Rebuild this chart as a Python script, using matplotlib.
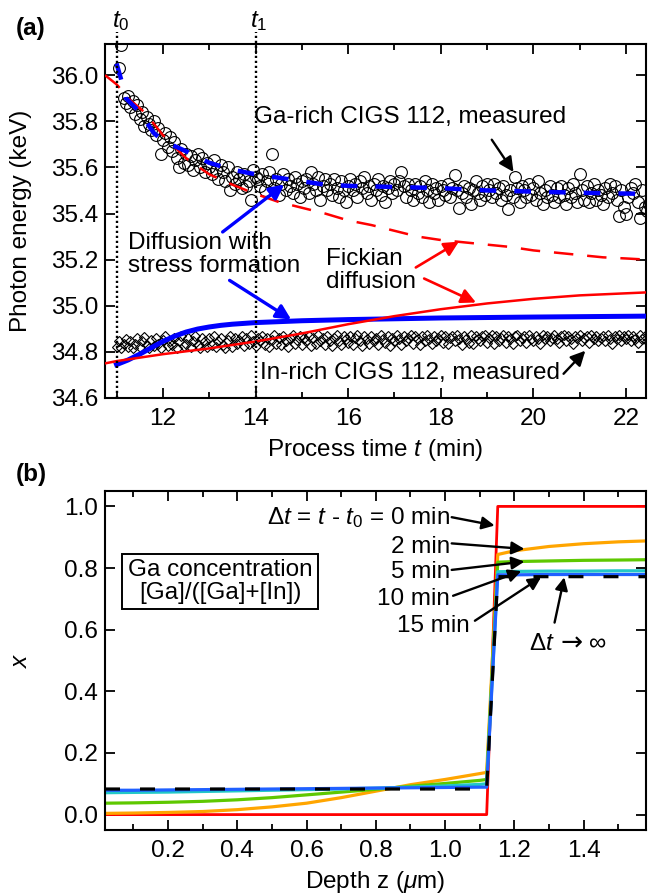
import numpy as np
import matplotlib
matplotlib.use('Agg')
import matplotlib.pyplot as plt
import matplotlib.transforms as mtransforms

# Fonts: Arial-like look
plt.rcParams['font.family'] = ['Liberation Sans', 'DejaVu Sans']
plt.rcParams['mathtext.fontset'] = 'custom'
plt.rcParams['mathtext.rm'] = 'Liberation Sans'
plt.rcParams['mathtext.it'] = 'Liberation Sans:italic'
plt.rcParams['mathtext.bf'] = 'Liberation Sans:bold'
plt.rcParams['font.size'] = 17.5
plt.rcParams['lines.scale_dashes'] = False

# ---------------- Panel (a) data ----------------
t0 = 11.0
t1 = 14.0

# Ga-rich CIGS 112, measured (circles), one value every 0.05 min from 11.05 min
ga_energy = [
    36.03, 36.13, 35.90, 35.88, 35.91, 35.86, 35.89, 35.83, 35.87, 35.81,
    35.84, 35.78, 35.82, 35.79, 35.76, 35.80, 35.74, 35.77, 35.66, 35.72,
    35.75, 35.69, 35.73, 35.67, 35.71, 35.64, 35.60, 35.68, 35.62, 35.66,
    35.61, 35.65, 35.59, 35.63, 35.66, 35.60, 35.64, 35.58, 35.62, 35.60,
    35.57, 35.63, 35.59, 35.55, 35.61, 35.58, 35.54, 35.60, 35.50, 35.56,
    35.53, 35.58, 35.55, 35.51, 35.57, 35.52, 35.54, 35.46, 35.59, 35.56,
    35.55, 35.52, 35.57, 35.50, 35.54, 35.58, 35.66, 35.51, 35.55, 35.48,
    35.53, 35.57, 35.50, 35.55, 35.52, 35.49, 35.56, 35.53, 35.47, 35.54,
    35.51, 35.55, 35.49, 35.58, 35.53, 35.50, 35.56, 35.46, 35.52, 35.55,
    35.50, 35.53, 35.48, 35.55, 35.51, 35.47, 35.54, 35.50, 35.45, 35.52,
    35.55, 35.50, 35.53, 35.47, 35.54, 35.51, 35.56, 35.49, 35.52, 35.46,
    35.53, 35.50, 35.55, 35.48, 35.52, 35.45, 35.51, 35.54, 35.49, 35.53,
    35.50, 35.54, 35.58, 35.52, 35.47, 35.53, 35.50, 35.46, 35.53, 35.49,
    35.52, 35.47, 35.54, 35.50, 35.45, 35.53, 35.49, 35.51, 35.46, 35.52,
    35.50, 35.48, 35.53, 35.47, 35.51, 35.565, 35.50, 35.425, 35.49, 35.52,
    35.47, 35.51, 35.44, 35.50, 35.54, 35.49, 35.46, 35.52, 35.48, 35.53,
    35.50, 35.47, 35.53, 35.49, 35.51, 35.46, 35.52, 35.48, 35.42, 35.50,
    35.47, 35.56, 35.51, 35.45, 35.52, 35.50, 35.47, 35.53, 35.48, 35.51,
    35.46, 35.54, 35.49, 35.44, 35.50, 35.47, 35.52, 35.48, 35.45, 35.51,
    35.47, 35.52, 35.48, 35.44, 35.51, 35.47, 35.53, 35.49, 35.45, 35.57,
    35.50, 35.46, 35.52, 35.45, 35.49, 35.53, 35.46, 35.50, 35.48, 35.44,
    35.51, 35.47, 35.53, 35.49, 35.52, 35.46, 35.39, 35.50, 35.43, 35.40,
    35.47, 35.51, 35.49, 35.53, 35.45, 35.38, 35.50, 35.43, 35.41, 35.44,
]
ga_t = np.round(11.05 + 0.05 * np.arange(len(ga_energy)), 2)

# In-rich CIGS 112, measured (diamonds), one value every 0.05 min from 11.0 min
in_energy = [
    34.82, 34.845, 34.815, 34.835, 34.855, 34.82, 34.845, 34.815, 34.835, 34.86,
    34.82, 34.845, 34.865, 34.83, 34.815, 34.85, 34.825, 34.86, 34.835, 34.815,
    34.85, 34.87, 34.825, 34.845, 34.83, 34.86, 34.815, 34.845, 34.87, 34.825,
    34.835, 34.86, 34.82, 34.845, 34.87, 34.83, 34.815, 34.86, 34.845, 34.82,
    34.86, 34.83, 34.87, 34.82, 34.845, 34.86, 34.83, 34.815, 34.85, 34.87,
    34.82, 34.86, 34.835, 34.85, 34.87, 34.825, 34.86, 34.835, 34.875, 34.845,
    34.825, 34.86, 34.845, 34.87, 34.83, 34.86, 34.82, 34.85, 34.875, 34.835,
    34.86, 34.83, 34.87, 34.845, 34.82, 34.86, 34.875, 34.835, 34.85, 34.87,
    34.83, 34.86, 34.845, 34.87, 34.825, 34.86, 34.835, 34.875, 34.845, 34.86,
    34.83, 34.87, 34.845, 34.825, 34.86, 34.875, 34.845, 34.83, 34.87, 34.855,
    34.84, 34.87, 34.83, 34.86, 34.875, 34.845, 34.825, 34.87, 34.855, 34.835,
    34.87, 34.845, 34.86, 34.83, 34.875, 34.855, 34.84, 34.87, 34.825, 34.86,
    34.845, 34.875, 34.855, 34.83, 34.87, 34.845, 34.86, 34.875, 34.835, 34.87,
    34.855, 34.83, 34.87, 34.845, 34.875, 34.855, 34.835, 34.87, 34.845, 34.86,
    34.875, 34.84, 34.87, 34.835, 34.86, 34.87, 34.845, 34.875, 34.855, 34.83,
    34.87, 34.855, 34.84, 34.875, 34.835, 34.87, 34.855, 34.845, 34.87, 34.875,
    34.84, 34.86, 34.875, 34.835, 34.87, 34.845, 34.86, 34.875, 34.84, 34.87,
    34.855, 34.835, 34.87, 34.875, 34.845, 34.86, 34.87, 34.84, 34.875, 34.855,
    34.845, 34.87, 34.855, 34.835, 34.875, 34.855, 34.87, 34.845, 34.86, 34.875,
    34.855, 34.84, 34.87, 34.875, 34.845, 34.87, 34.855, 34.835, 34.87, 34.86,
    34.875, 34.845, 34.86, 34.87, 34.84, 34.875, 34.855, 34.87, 34.845, 34.86,
    34.87, 34.845, 34.875, 34.855, 34.835, 34.87, 34.855, 34.875, 34.845, 34.87,
    34.855, 34.875, 34.845, 34.87, 34.855, 34.84, 34.875, 34.855, 34.87, 34.845,
]
in_t = np.round(11.0 + 0.05 * np.arange(len(in_energy)), 2)

# Fickian diffusion model (red)
fick_ga_t = [10.75, 11.0, 11.3, 11.6, 12.0, 12.5, 13.0, 13.5, 14.0, 14.5, 15.0, 15.5,
             16.0, 16.5, 17.0, 17.5, 18.0, 18.5, 19.0, 19.5, 20.0, 20.5, 21.0, 21.5,
             22.0, 22.45]
fick_ga_e = [36.00, 35.96, 35.89, 35.84, 35.74, 35.64, 35.57, 35.525, 35.485, 35.45,
             35.425, 35.40, 35.37, 35.35, 35.325, 35.30, 35.285, 35.275, 35.265,
             35.255, 35.24, 35.23, 35.22, 35.21, 35.205, 35.20]
fick_in_t = [10.75, 11.0, 12.0, 13.0, 14.0, 15.0, 16.0, 17.0, 18.0, 19.0, 20.0, 21.0, 22.45]
fick_in_e = [34.75, 34.76, 34.79, 34.815, 34.845, 34.88, 34.92, 34.955, 34.985, 35.01,
             35.03, 35.045, 35.058]

# Diffusion with stress formation model (blue)
stress_ga_t = [11.0, 11.1, 11.2, 11.5, 11.8, 12.0, 12.5, 13.0, 13.5, 14.0, 14.5, 15.0,
               15.5, 16.0, 17.0, 18.0, 19.0, 20.0, 21.0, 22.45]
stress_ga_e = [36.05, 35.98, 35.90, 35.84, 35.75, 35.715, 35.67, 35.62, 35.59, 35.57,
               35.555, 35.54, 35.525, 35.52, 35.515, 35.51, 35.50, 35.495, 35.49, 35.485]
stress_in_t = [11.0, 11.25, 11.5, 11.75, 12.0, 12.25, 12.5, 12.75, 13.0, 13.25, 13.5,
               14.0, 14.5, 15.0, 16.0, 18.0, 20.0, 22.45]
stress_in_e = [34.745, 34.765, 34.79, 34.818, 34.845, 34.868, 34.886, 34.899, 34.908,
               34.915, 34.92, 34.927, 34.931, 34.935, 34.94, 34.947, 34.951, 34.955]

# ---------------- Panel (b) data ----------------
z_low = [0.018, 0.1, 0.2, 0.3, 0.4, 0.5, 0.6, 0.7, 0.8, 0.9, 1.0, 1.1, 1.12]
z_high = [1.152, 1.2, 1.3, 1.4, 1.5, 1.58]
x_0min = [0.0] * 13 + [1.0] * 6
x_2min = [0.004, 0.005, 0.007, 0.010, 0.016, 0.025, 0.037, 0.055, 0.076, 0.097, 0.114,
          0.133, 0.137, 0.844, 0.856, 0.870, 0.879, 0.885, 0.888]
x_5min = [0.037, 0.038, 0.040, 0.043, 0.048, 0.055, 0.064, 0.073, 0.082, 0.092, 0.101,
          0.111, 0.114, 0.819, 0.821, 0.823, 0.825, 0.826, 0.827]
x_10min = [0.071, 0.072, 0.073, 0.075, 0.077, 0.079, 0.081, 0.083, 0.086, 0.089, 0.093,
           0.098, 0.100, 0.788, 0.789, 0.790, 0.790, 0.791, 0.791]
x_15min = [0.079, 0.079, 0.080, 0.081, 0.082, 0.083, 0.084, 0.085, 0.086, 0.087, 0.088,
           0.089, 0.089, 0.778, 0.778, 0.779, 0.779, 0.779, 0.779]
x_inf = [0.083] * 13 + [0.772] * 6
z_all = z_low + z_high

fig = plt.figure(figsize=(6.52, 8.94), dpi=100)

# ================= (a) =================
ax1 = fig.add_axes([105 / 652, 1 - 398 / 894, 541 / 652, 354 / 894])
ax1.plot(ga_t, ga_energy, 'o', ms=8.5, mfc='none', mec='black', mew=0.8, zorder=2)
ax1.plot(in_t, in_energy, 'D', ms=5, mfc='none', mec='black', mew=0.8, zorder=2)

ax1.plot(fick_ga_t, fick_ga_e, color='red', lw=1.8, dashes=(14, 10), zorder=3)
ax1.plot(stress_ga_t, stress_ga_e, color='blue', lw=3.2, dashes=(12, 13),
         solid_capstyle='butt', dash_capstyle='butt', zorder=4)
ax1.plot(stress_in_t, stress_in_e, color='blue', lw=3.6, zorder=3)
ax1.plot(fick_in_t, fick_in_e, color='red', lw=1.8, zorder=4)

for tt in (t0, t1):
    ax1.axvline(tt, ymin=0, ymax=1.034, color='black', lw=1.7,
                linestyle=(0, (1.6, 2.0)), clip_on=False, zorder=5)
trans = mtransforms.blended_transform_factory(ax1.transData, ax1.transAxes)
ax1.text(11.09, 1.065, '$t_0$', transform=trans, ha='center', va='center')
ax1.text(14.07, 1.065, '$t_1$', transform=trans, ha='center', va='center')

ax1.set_xlim(10.75, 22.43)
ax1.set_ylim(34.6, 36.135)
ax1.set_xticks(np.arange(12, 23, 2))
ax1.set_xticks(np.arange(11, 23, 1), minor=True)
ax1.set_yticks(np.arange(34.6, 36.05, 0.2))
ax1.set_yticklabels(['%.1f' % v for v in np.arange(34.6, 36.05, 0.2)])
ax1.set_xlabel('Process time $t$ (min)')
ax1.set_ylabel('Photon energy (keV)')
ax1.xaxis.set_label_coords(0.5, -0.11)
ax1.yaxis.set_label_coords(-0.135, 0.5)

ax1.text(13.97, 35.82, 'Ga-rich CIGS 112, measured', ha='left', va='center')
ax1.text(14.09, 34.71, 'In-rich CIGS 112, measured', ha='left', va='center')
ax1.text(11.24, 35.222, 'Diffusion with\nstress formation', ha='left', va='center',
         linespacing=1.05)
ax1.text(15.53, 35.153, 'Fickian\ndiffusion', ha='left', va='center', linespacing=1.05)

arrows_a = [
    ((19.57, 35.58), (19.1, 35.72), 'black', 1.7),
    ((21.12, 34.805), (20.65, 34.705), 'black', 1.7),
    ((14.62, 35.526), (13.29, 35.32), 'blue', 2.4),
    ((14.77, 34.94), (13.44, 35.11), 'blue', 2.4),
    ((18.39, 35.278), (17.46, 35.166), 'red', 1.9),
    ((18.76, 35.014), (17.64, 35.118), 'red', 1.9),
]
for head, tail, col, lw in arrows_a:
    ax1.annotate('', xy=head, xytext=tail,
                 arrowprops=dict(arrowstyle='-|>', color=col, lw=lw,
                                 mutation_scale=22, shrinkA=0, shrinkB=0), zorder=6)

# ================= (b) =================
ax2 = fig.add_axes([105 / 652, 1 - 830 / 894, 541 / 652, 339 / 894])
ax2.plot(z_all, x_0min, color='#ff0000', lw=2.0)
ax2.plot(z_all, x_2min, color='#ffa500', lw=2.3)
ax2.plot(z_all, x_5min, color='#5ec800', lw=2.3)
ax2.plot(z_all, x_10min, color='#22c8c8', lw=2.3)
ax2.plot(z_all, x_15min, color='#2060ff', lw=2.3)
ax2.plot(z_all, x_inf, color='black', lw=2.3, dashes=(10.8, 14.4))

ax2.set_xlim(0.018, 1.58)
ax2.set_ylim(-0.05, 1.05)
ax2.set_xticks(np.arange(0.2, 1.5, 0.2))
ax2.set_xticklabels(['%.1f' % v for v in np.arange(0.2, 1.5, 0.2)])
ax2.set_xticks(np.arange(0.1, 1.56, 0.1), minor=True)
ax2.set_yticks(np.arange(0.0, 1.01, 0.2))
ax2.set_yticklabels(['%.1f' % v for v in np.arange(0.0, 1.01, 0.2)])
ax2.set_xlabel('Depth z ($\\mu$m)')
ax2.set_ylabel('$x$')
ax2.xaxis.set_label_coords(0.5, -0.115)
ax2.yaxis.set_label_coords(-0.135, 0.5)

ax2.text(0.35, 0.757, 'Ga concentration\n[Ga]/([Ga]+[In])', ha='center', va='center',
         multialignment='center', linespacing=1.05,
         bbox=dict(boxstyle='square,pad=0.22', fc='white', ec='black', lw=1.4))

ax2.text(1.014, 0.965, 'Δ$t$ = $t$ - $t_0$ = 0 min', ha='right', va='center')
ax2.text(1.014, 0.867, '2 min', ha='right', va='center')
ax2.text(1.014, 0.786, '5 min', ha='right', va='center')
ax2.text(1.014, 0.70, '10 min', ha='right', va='center')
ax2.text(1.072, 0.612, '15 min', ha='right', va='center')
# "Delta t -> infinity" built from three pieces so the arrow is long enough
ax2.text(1.318, 0.553, 'Δ$t$', ha='right', va='center')
ax2.text(1.365, 0.556, '→', ha='center', va='center', family=['DejaVu Sans'], fontsize=19)
ax2.text(1.414, 0.553, '∞', ha='left', va='center')

arrows_b = [
    ((1.143, 0.938), (1.019, 0.965)),
    ((1.229, 0.862), (1.019, 0.880)),
    ((1.229, 0.821), (1.019, 0.794)),
    ((1.22, 0.79), (1.023, 0.71)),
    ((1.277, 0.77), (1.086, 0.629)),
    ((1.344, 0.77), (1.316, 0.623)),
]
for head, tail in arrows_b:
    ax2.annotate('', xy=head, xytext=tail,
                 arrowprops=dict(arrowstyle='-|>', color='black', lw=1.7,
                                 mutation_scale=19, shrinkA=0, shrinkB=0), zorder=6)

for ax in (ax1, ax2):
    for sp in ax.spines.values():
        sp.set_linewidth(1.5)
    ax.tick_params(which='both', direction='in', top=True, right=True, width=1.3)
    ax.tick_params(which='major', length=7, pad=5)
    ax.tick_params(which='minor', length=4.5)
    ax.tick_params(axis='x', which='major', pad=7)

fig.text(31 / 652, 1 - 29 / 894, '(a)', fontweight='bold', ha='center', va='center')
fig.text(31 / 652, 1 - 474 / 894, '(b)', fontweight='bold', ha='center', va='center')

fig.savefig('out.png', dpi=100)
